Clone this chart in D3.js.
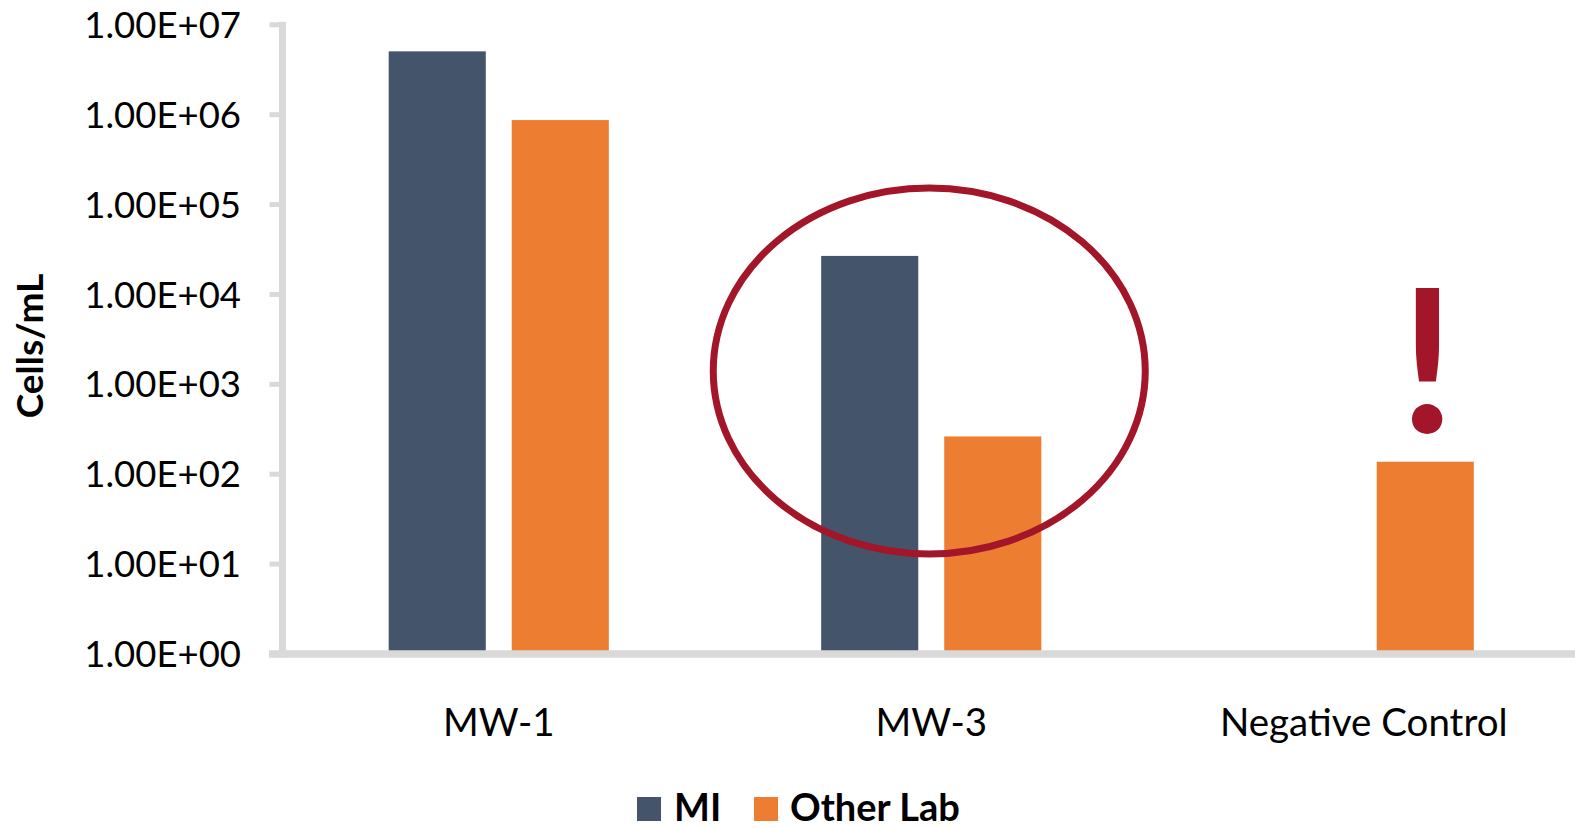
<!DOCTYPE html>
<html>
<head>
<meta charset="utf-8">
<script src="https://cdn.jsdelivr.net/npm/d3@7"></script>
<style>
  html, body { margin: 0; padding: 0; background: #ffffff; }
  svg { display: block; font-family: Lato, "Open Sans", sans-serif; }
</style>
</head>
<body>
<svg id="chart" width="1575" height="828"></svg>
<script>
// Sample groups and the two labs that counted them
const categories = ["MW-1", "MW-3", "Negative Control"];
const seriesNames = ["MI", "Other Lab"];
const miValues = [5.0e6, 2.65e4, null];        // no count reported for the negative control
const otherLabValues = [8.6e5, 2.6e2, 1.36e2];
const tickValues = [1, 10, 100, 1e3, 1e4, 1e5, 1e6, 1e7];
const tickLabels = ["1.00E+00", "1.00E+01", "1.00E+02", "1.00E+03",
                    "1.00E+04", "1.00E+05", "1.00E+06", "1.00E+07"];
const yTitle = "Cells/mL";

const colors = { "MI": "#44546a", "Other Lab": "#ed7d31" };
const axisGray = "#d9d9d9";
const flagRed = "#a3162a";

const seriesValues = { "MI": miValues, "Other Lab": otherLabValues };
const rows = categories.map((c, i) => ({
  category: c,
  values: seriesNames.map(s => ({ series: s, value: seriesValues[s][i] }))
}));

const svg = d3.select("#chart");

const plot = { left: 282.5, right: 1580, top: 24.3, bottom: 653.5 };

const y = d3.scaleLog().domain([1, 1e7]).range([plot.bottom, plot.top]);

const x0 = d3.scaleBand()
  .domain(categories)
  .range([plot.left, plot.right])
  .paddingInner(0.491)
  .paddingOuter(0.2455);

const x1 = d3.scaleBand()
  .domain(seriesNames)
  .range([0, x0.bandwidth()])
  .paddingInner(0.211)
  .paddingOuter(0);

// Bars
const groups = svg.append("g").attr("class", "bars")
  .selectAll("g")
  .data(rows)
  .join("g")
  .attr("transform", d => `translate(${x0(d.category)},0)`);

groups.selectAll("rect")
  .data(d => d.values.filter(v => v.value != null))
  .join("rect")
  .attr("x", d => x1(d.series))
  .attr("width", x1.bandwidth())
  .attr("y", d => y(d.value))
  .attr("height", d => y(1) - y(d.value))
  .attr("fill", d => colors[d.series]);

// Y axis
const yAxis = d3.axisLeft(y)
  .tickValues(tickValues)
  .tickFormat((d, i) => tickLabels[i])
  .tickSizeInner(13)
  .tickSizeOuter(0)
  .tickPadding(28.5);

const gy = svg.append("g")
  .attr("transform", `translate(${plot.left},0)`)
  .call(yAxis);
gy.select(".domain").remove();
gy.selectAll(".tick line").attr("stroke", axisGray).attr("stroke-width", 5);
gy.selectAll(".tick text")
  .attr("fill", "#000")
  .attr("font-size", 36.5)
  .attr("font-family", "Lato, sans-serif")
  .attr("dy", "0.36em");
gy.append("line")
  .attr("x1", 0).attr("x2", 0)
  .attr("y1", plot.top - 2.6).attr("y2", plot.bottom + 4)
  .attr("stroke", axisGray).attr("stroke-width", 7);

// X axis
const xAxis = d3.axisBottom(x0).tickSize(0).tickPadding(0);
const gx = svg.append("g")
  .attr("transform", `translate(0,${plot.bottom})`)
  .call(xAxis);
gx.select(".domain").remove();
gx.append("line")
  .attr("x1", 269).attr("x2", 1575)
  .attr("y1", 0.5).attr("y2", 0.5)
  .attr("stroke", axisGray).attr("stroke-width", 7.5);
gx.selectAll(".tick text")
  .attr("fill", "#000")
  .attr("font-size", 38.5)
  .attr("font-family", "Lato, sans-serif")
  .attr("y", 82.5)
  .attr("dy", 0);

// Y axis title
svg.append("text")
  .attr("transform", `translate(43,346) rotate(-90)`)
  .attr("text-anchor", "middle")
  .attr("font-size", 37)
  .attr("font-weight", 700)
  .attr("fill", "#000")
  .text(yTitle);

// Highlight around the MW-3 discrepancy
svg.append("ellipse")
  .attr("cx", x0("MW-3") + x0.bandwidth() / 2 - 2)
  .attr("cy", 371)
  .attr("rx", 216)
  .attr("ry", 183)
  .attr("fill", "none")
  .attr("stroke", flagRed)
  .attr("stroke-width", 7);

// Warning mark over the negative control
svg.append("text")
  .attr("x", x0("Negative Control") + x1("Other Lab") + x1.bandwidth() / 2 + 2)
  .attr("y", 433)
  .attr("text-anchor", "middle")
  .attr("font-size", 200)
  .attr("font-weight", 700)
  .attr("fill", flagRed)
  .text("!");

// Legend
const legend = svg.append("g").attr("class", "legend");
const legendItems = [
  { name: "MI", sx: 637, tx: 674 },
  { name: "Other Lab", sx: 754, tx: 790 }
];
legendItems.forEach(it => {
  legend.append("rect")
    .attr("x", it.sx).attr("y", 797)
    .attr("width", 24).attr("height", 24)
    .attr("fill", colors[it.name]);
  legend.append("text")
    .attr("x", it.tx).attr("y", 821)
    .attr("font-size", 38)
    .attr("font-weight", 700)
    .attr("fill", "#000")
    .text(it.name);
});
</script>
</body>
</html>
